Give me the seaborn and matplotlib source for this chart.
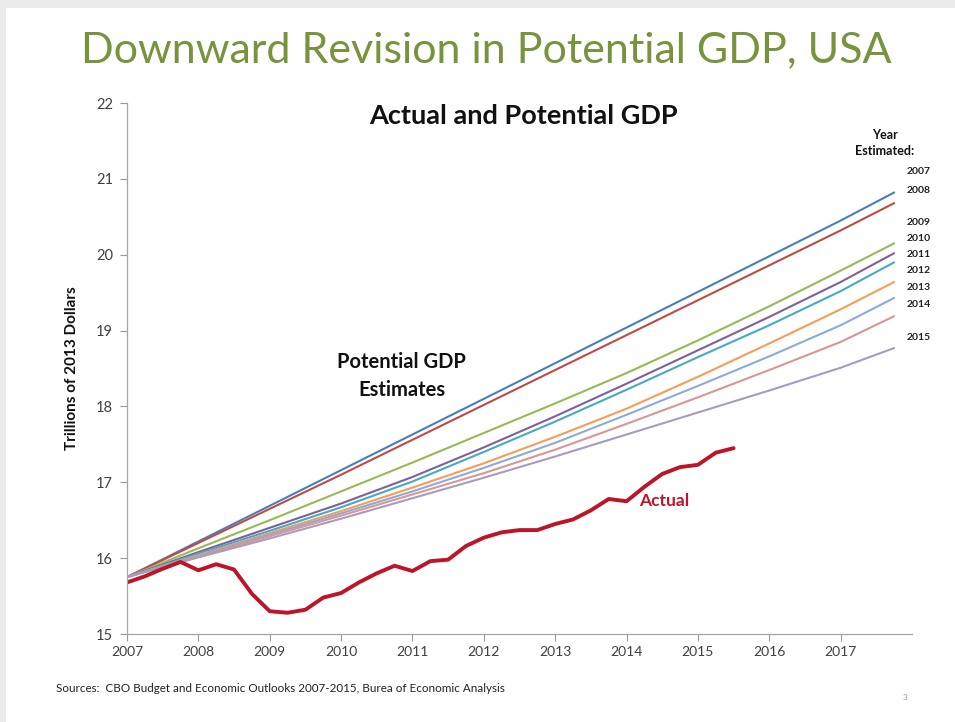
import numpy as np
import pandas as pd
import matplotlib
matplotlib.use("Agg")
import matplotlib.pyplot as plt
from matplotlib.patches import Rectangle
import seaborn as sns

# ---- data -------------------------------------------------------------
proj_years = [2007, 2008, 2009, 2010, 2011, 2012, 2013, 2014, 2015, 2016, 2017, 2017.75]

est_2007 = [15.75, 16.22, 16.69, 17.16, 17.63, 18.10, 18.57, 19.04, 19.51, 19.98, 20.45, 20.82]
est_2008 = [15.75, 16.20, 16.65, 17.10, 17.56, 18.02, 18.48, 18.94, 19.40, 19.86, 20.32, 20.68]
est_2009 = [15.75, 16.13, 16.50, 16.88, 17.26, 17.65, 18.04, 18.44, 18.87, 19.32, 19.79, 20.15]
est_2010 = [15.75, 16.08, 16.40, 16.72, 17.07, 17.46, 17.87, 18.30, 18.74, 19.18, 19.64, 20.02]
est_2011 = [15.75, 16.06, 16.36, 16.67, 17.01, 17.40, 17.80, 18.22, 18.65, 19.07, 19.52, 19.90]
est_2012 = [15.75, 16.04, 16.33, 16.62, 16.93, 17.25, 17.60, 17.97, 18.39, 18.83, 19.28, 19.64]
est_2013 = [15.75, 16.03, 16.31, 16.59, 16.88, 17.19, 17.52, 17.89, 18.27, 18.66, 19.07, 19.43]
est_2014 = [15.75, 16.02, 16.29, 16.56, 16.84, 17.12, 17.43, 17.77, 18.12, 18.48, 18.85, 19.19]
est_2015 = [15.75, 16.01, 16.26, 16.52, 16.79, 17.06, 17.34, 17.63, 17.92, 18.21, 18.51, 18.77]

vintages = ["2007", "2008", "2009", "2010", "2011", "2012", "2013", "2014", "2015"]
estimates = [est_2007, est_2008, est_2009, est_2010, est_2011,
             est_2012, est_2013, est_2014, est_2015]

actual_quarters = [2007.0, 2007.25, 2007.5, 2007.75, 2008.0, 2008.25, 2008.5, 2008.75,
                   2009.0, 2009.25, 2009.5, 2009.75, 2010.0, 2010.25, 2010.5, 2010.75,
                   2011.0, 2011.25, 2011.5, 2011.75, 2012.0, 2012.25, 2012.5, 2012.75,
                   2013.0, 2013.25, 2013.5, 2013.75, 2014.0, 2014.25, 2014.5, 2014.75,
                   2015.0, 2015.25, 2015.5]
actual_gdp = [15.68, 15.76, 15.86, 15.95, 15.84, 15.92, 15.85, 15.53,
              15.30, 15.28, 15.32, 15.48, 15.54, 15.68, 15.80, 15.90,
              15.83, 15.96, 15.98, 16.16, 16.27, 16.34, 16.37, 16.37,
              16.45, 16.51, 16.63, 16.78, 16.75, 16.94, 17.11, 17.20,
              17.23, 17.39, 17.45]

x_ticks = [2007, 2008, 2009, 2010, 2011, 2012, 2013, 2014, 2015, 2016, 2017]
y_ticks = [15, 16, 17, 18, 19, 20, 21, 22]

# label positions for the vintage key on the right (value units)
vintage_label_y = [21.10, 20.85, 20.42, 20.21, 20.00, 19.79, 19.57, 19.34, 18.91]

palette = ["#4A7EBB", "#BE4B48", "#98B954", "#7D60A0", "#46AAC5",
           "#F59D56", "#8EAADB", "#D99694", "#A99BBD"]

# ---- build frames -----------------------------------------------------
proj = pd.DataFrame({
    "year": np.tile(proj_years, len(vintages)),
    "gdp": np.concatenate(estimates),
    "vintage": np.repeat(vintages, len(proj_years)),
})
actual = pd.DataFrame({"year": actual_quarters, "gdp": actual_gdp})

# ---- figure -----------------------------------------------------------
sns.set_theme(style="white")
plt.rcParams["font.family"] = ["Lato", "DejaVu Sans"]

fig = plt.figure(figsize=(9.55, 7.22), dpi=100)
fig.patch.set_facecolor("#EBEBEB")
fig.add_artist(Rectangle((6 / 955, 0), 1, 1 - 8 / 722, transform=fig.transFigure,
                         facecolor="white", edgecolor="none", zorder=0))

ax = fig.add_axes([127 / 955, 88 / 722, (912 - 127) / 955, (634 - 103) / 722])
ax.set_facecolor("none")

sns.lineplot(data=proj, x="year", y="gdp", hue="vintage", palette=palette,
             linewidth=1.5, legend=False, ax=ax)
sns.lineplot(data=actual, x="year", y="gdp", color="#BE1428", linewidth=2.8,
             legend=False, ax=ax)

ax.set_xlim(2007, 2018)
ax.set_ylim(15, 22)
ax.set_xticks(x_ticks)
ax.set_yticks(y_ticks)
ax.set_xticklabels([str(t) for t in x_ticks])
ax.set_yticklabels([str(t) for t in y_ticks])
ax.tick_params(axis="x", which="major", direction="out", length=5, width=0.8,
               color="#9A9A9A", labelsize=10, labelcolor="#404040", pad=4, bottom=True)
ax.tick_params(axis="y", which="major", direction="out", length=5, width=0.8,
               color="#9A9A9A", labelsize=10.5, labelcolor="#404040", pad=5, left=True)

for side in ["top", "right"]:
    ax.spines[side].set_visible(False)
for side in ["left", "bottom"]:
    ax.spines[side].set_color("#A6A6A6")
    ax.spines[side].set_linewidth(0.9)

ax.set_xlabel("")
ax.set_ylabel("Trillions of 2013 Dollars", fontsize=11, fontweight="bold",
              color="#111111", labelpad=12)

# chart texts
ax.text(2012.55, 21.83, "Actual and Potential GDP", ha="center", va="center",
        fontsize=19.5, fontweight="bold", color="#111111")
ax.text(2010.85, 18.40, "Potential GDP\nEstimates", ha="center", va="center",
        fontsize=14.5, fontweight="bold", color="#111111", linespacing=1.5)
ax.text(2014.18, 16.75, "Actual", ha="left", va="center",
        fontsize=12.5, fontweight="bold", color="#BE1428")

ax.text(2017.62, 21.47, "Year\nEstimated:", ha="center", va="center",
        fontsize=9, fontweight="bold", color="#111111", linespacing=1.4)
for lab, yv in zip(vintages, vintage_label_y):
    ax.text(2018.1, yv, lab, ha="center", va="center", fontsize=7.5,
            fontweight="bold", color="#222222")

# slide texts
fig.text(486 / 955, 1 - 50 / 722, "Downward Revision in Potential GDP, USA",
         ha="center", va="center", fontsize=31, color="#77933C")
fig.text(56 / 955, 1 - 688 / 722,
         "Sources:  CBO Budget and Economic Outlooks 2007-2015, Burea of Economic Analysis",
         ha="left", va="center", fontsize=8.4, color="#222222")
fig.text(905 / 955, 1 - 698 / 722, "3", ha="center", va="center",
         fontsize=6, color="#9A9A9A")

fig.savefig("out.png", dpi=100, facecolor=fig.get_facecolor())
